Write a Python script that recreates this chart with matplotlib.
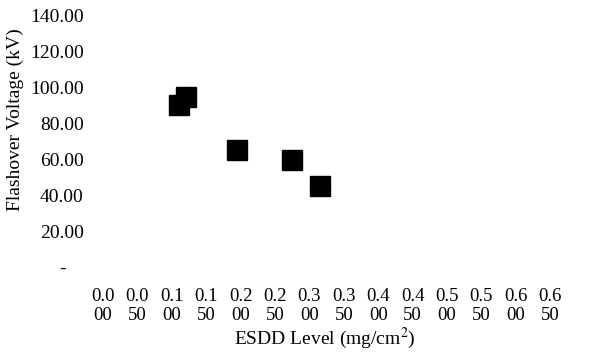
import matplotlib.pyplot as plt

plt.rcParams['font.family'] = ['Liberation Serif', 'DejaVu Serif']
plt.rcParams['mathtext.fontset'] = 'stix'

esdd = [0.110, 0.120, 0.195, 0.275, 0.315]
voltage = [90.0, 94.5, 65.0, 59.5, 45.0]

x_ticks = [0.00, 0.05, 0.10, 0.15, 0.20, 0.25, 0.30, 0.35, 0.40, 0.45, 0.50, 0.55, 0.60, 0.65]
x_labels = ["0.0\n00", "0.0\n50", "0.1\n00", "0.1\n50", "0.2\n00", "0.2\n50", "0.3\n00",
            "0.3\n50", "0.4\n00", "0.4\n50", "0.5\n00", "0.5\n50", "0.6\n00", "0.6\n50"]
y_ticks = [0, 20, 40, 60, 80, 100, 120, 140]
y_labels = ["-", "20.00", "40.00", "60.00", "80.00", "100.00", "120.00", "140.00"]


def main():
    fig = plt.figure(figsize=(5.96, 3.55), dpi=100)
    ax = fig.add_axes([103 / 596, 1 - 267 / 355, 481.6 / 596, 252 / 355])

    ax.plot(esdd, voltage, linestyle="none", marker="s", markersize=14, color="black")

    ax.set_xlim(0, 0.70)
    ax.set_ylim(0, 140)
    for s in ax.spines.values():
        s.set_visible(False)

    ax.set_xticks(x_ticks)
    ax.set_xticklabels(x_labels, fontsize=13.5, linespacing=1.2)
    ax.set_yticks(y_ticks)
    ax.set_yticklabels(y_labels, fontsize=14)
    ax.tick_params(axis="x", length=0, pad=15)
    ax.tick_params(axis="y", length=0, pad=14)
    ax.yaxis.get_major_ticks()[0].set_pad(27)

    ax.set_xlabel("ESDD Level (mg/cm$^2$)", fontsize=14)
    ax.xaxis.set_label_coords(0.461, -0.282)
    ax.xaxis.label.set_va("center")
    ax.set_ylabel("Flashover Voltage (kV)", fontsize=14)
    ax.yaxis.set_label_coords(-0.183, 0.583)
    ax.yaxis.label.set_va("center")

    fig.savefig("out.png", dpi=100)


if __name__ == "__main__":
    main()
